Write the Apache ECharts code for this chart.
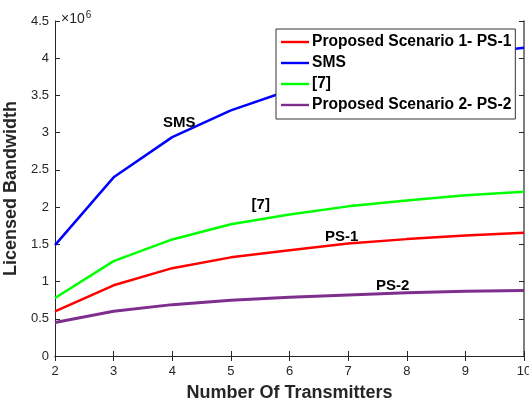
<!DOCTYPE html>
<html>
<head>
<meta charset="utf-8">
<script src="https://cdn.jsdelivr.net/npm/echarts@6/dist/echarts.min.js"></script>
<style>html,body{margin:0;padding:0;background:#fff;}#c{width:529px;height:405px;}</style>
</head>
<body>
<div id="c"></div>
<script>
const transmitters = [2, 3, 4, 5, 6, 7, 8, 9, 10];
const ps1 = [0.60, 0.95, 1.18, 1.325, 1.42, 1.51, 1.57, 1.62, 1.655];
const sms = [1.49, 2.40, 2.94, 3.30, 3.57, 3.77, 3.93, 4.05, 4.14];
const ref7 = [0.78, 1.275, 1.566, 1.77, 1.90, 2.01, 2.09, 2.16, 2.205];
const ps2 = [0.45, 0.60, 0.69, 0.75, 0.79, 0.82, 0.85, 0.87, 0.88];
const seriesNames = ['Proposed Scenario 1- PS-1', 'SMS', '[7]', 'Proposed Scenario 2- PS-2'];
const yTicks = [0, 0.5, 1, 1.5, 2, 2.5, 3, 3.5, 4, 4.5];
const annotations = [
  { text: 'SMS', x: 4.12, y: 3.13 },
  { text: '[7]', x: 5.51, y: 2.03 },
  { text: 'PS-1', x: 6.89, y: 1.60 },
  { text: 'PS-2', x: 7.76, y: 0.94 }
];
const scale = 1e6;
const FONT = 'Liberation Sans, Arial, Helvetica, sans-serif';

function pairs(vals) { return transmitters.map((t, i) => [t, vals[i] * scale]); }

const chart = echarts.init(document.getElementById('c'), null, { renderer: 'canvas' });
const axisCol = '#262626';
const colors = ['#ff0000', '#0000ff', '#00ff00', '#7e2f8e'];
const data = [ps1, sms, ref7, ps2];

const series = data.map((d, i) => ({
  name: seriesNames[i],
  type: 'line',
  data: pairs(d),
  symbol: 'none',
  lineStyle: { color: colors[i], width: i === 3 ? 3 : 2.5 },
  itemStyle: { color: colors[i] },
  z: 3,
  animation: false
}));
series.push({
  type: 'scatter',
  data: annotations.map(a => ({ value: [a.x, a.y * scale], name: a.text })),
  symbolSize: 1,
  itemStyle: { opacity: 0 },
  silent: true,
  label: {
    show: true, position: 'inside', formatter: p => p.name,
    color: '#000', fontWeight: 'bold', fontSize: 15, fontFamily: FONT,
    textBorderWidth: 0, opacity: 1
  },
  z: 4,
  animation: false
});

chart.setOption({
  backgroundColor: '#fff',
  animation: false,
  title: {
    text: '×10{sup|6}',
    left: 56, top: 5,
    textStyle: {
      color: axisCol, fontSize: 14, fontWeight: 'normal', fontFamily: FONT,
      rich: { sup: { fontSize: 10, verticalAlign: 'top', color: axisCol, padding: [0, 0, 9, 1], fontFamily: FONT } }
    }
  },
  grid: { left: 55, right: 5, top: 21, bottom: 49, containLabel: false, outerBoundsMode: 'none' },
  legend: {
    data: seriesNames,
    orient: 'vertical',
    left: 276, top: 29,
    backgroundColor: '#fff',
    borderColor: '#333',
    borderWidth: 1,
    borderRadius: 0,
    padding: [5, 4, 6, 5],
    itemWidth: 28, itemHeight: 16, itemGap: 5,
    icon: 'path://M0,6.8 L28,6.8 L28,9.2 L0,9.2 Z',
    textStyle: { color: '#000', fontWeight: 'bold', fontSize: 15.6, fontFamily: FONT, padding: [0, 0, 0, -2] }
  },
  xAxis: [{
    type: 'value', min: 2, max: 10, interval: 1,
    name: 'Number Of Transmitters', nameLocation: 'middle', nameGap: 28,
    nameTextStyle: { color: axisCol, fontWeight: 'bold', fontSize: 18, fontFamily: FONT },
    axisLine: { show: true, lineStyle: { color: axisCol, width: 1 } },
    axisTick: { show: true, inside: true, length: 5, lineStyle: { color: axisCol } },
    axisLabel: { color: axisCol, fontSize: 13, margin: 9, fontFamily: FONT },
    splitLine: { show: false }
  }, {
    type: 'value', min: 2, max: 10, interval: 1, position: 'top',
    axisLine: { show: true, lineStyle: { color: axisCol, width: 1 } },
    axisTick: { show: true, inside: true, length: 5, lineStyle: { color: axisCol } },
    axisLabel: { show: false }, splitLine: { show: false }
  }],
  yAxis: [{
    type: 'value', min: 0, max: 4.5 * scale, interval: 0.5 * scale,
    name: 'Licensed Bandwidth', nameLocation: 'middle', nameGap: 27,
    nameTextStyle: { color: axisCol, fontWeight: 'bold', fontSize: 18, fontFamily: FONT },
    axisLine: { show: true, lineStyle: { color: axisCol, width: 1 } },
    axisTick: { show: true, inside: true, length: 5, lineStyle: { color: axisCol } },
    axisLabel: {
      color: axisCol, fontSize: 13, margin: 6, fontFamily: FONT,
      formatter: v => { const t = v / scale; const k = yTicks.find(y => Math.abs(y - t) < 1e-9); return k === undefined ? '' : String(k); }
    },
    splitLine: { show: false }
  }, {
    type: 'value', min: 0, max: 4.5 * scale, interval: 0.5 * scale, position: 'right',
    axisLine: { show: true, lineStyle: { color: '#555', width: 1.5 } },
    axisTick: { show: true, inside: true, length: 5, lineStyle: { color: axisCol } },
    axisLabel: { show: false }, splitLine: { show: false }
  }],
  series: series
});
</script>
</body>
</html>
